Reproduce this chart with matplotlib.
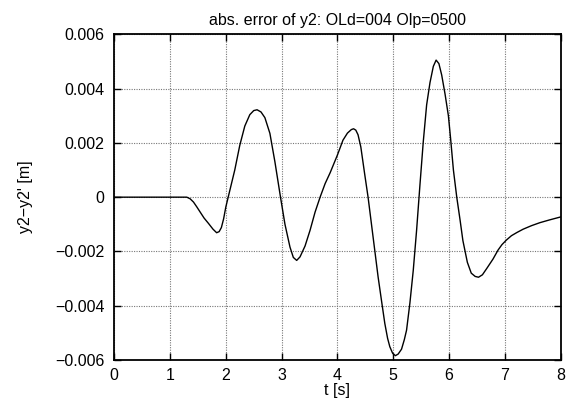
import matplotlib
matplotlib.use("Agg")
import matplotlib.pyplot as plt
from matplotlib.ticker import FixedLocator, FixedFormatter

# Data (t in s, error in units of 1e-3 m)
t = [0.0, 1.30, 1.36, 1.42, 1.48, 1.54, 1.61, 1.69, 1.77, 1.835, 1.88, 1.92,
     1.96, 2.00, 2.06, 2.16, 2.25, 2.34, 2.43, 2.50, 2.56, 2.63, 2.70, 2.79,
     2.88, 2.98, 3.06, 3.15, 3.21, 3.27, 3.33, 3.42, 3.51, 3.60, 3.69, 3.78,
     3.87, 4.00, 4.10, 4.18, 4.25, 4.29, 4.33, 4.37, 4.42, 4.49, 4.55, 4.61,
     4.67, 4.73, 4.79, 4.85, 4.90, 4.94, 4.99, 5.04, 5.09, 5.15, 5.20, 5.24,
     5.30, 5.36, 5.42, 5.48, 5.54, 5.60, 5.66, 5.72, 5.77, 5.82, 5.87, 5.93,
     5.99, 6.03, 6.08, 6.14, 6.20, 6.25, 6.33, 6.40, 6.47, 6.53, 6.60, 6.68,
     6.79, 6.88, 6.95, 7.03, 7.12, 7.22, 7.33, 7.48, 7.63, 7.80, 8.00]
err_milli = [0.0, 0.0, -0.06, -0.18, -0.36, -0.55, -0.77, -0.97, -1.18, -1.31, -1.27, -1.12,
             -0.80, -0.36, 0.15, 1.00, 1.91, 2.62, 3.04, 3.19, 3.22, 3.14, 2.93, 2.35,
             1.30, 0.0, -1.00, -1.84, -2.22, -2.33, -2.20, -1.80, -1.22, -0.55, 0.0, 0.50,
             0.90, 1.55, 2.10, 2.36, 2.49, 2.52, 2.47, 2.30, 1.85, 0.84, 0.0, -0.98,
             -1.96, -2.94, -3.80, -4.65, -5.20, -5.51, -5.75, -5.84, -5.78, -5.60, -5.25, -4.90,
             -3.90, -2.70, -1.22, 0.45, 2.05, 3.40, 4.22, 4.82, 5.05, 4.92, 4.50, 3.80,
             3.00, 2.15, 1.00, 0.0, -0.85, -1.60, -2.40, -2.80, -2.92, -2.95, -2.86, -2.62,
             -2.28, -1.95, -1.75, -1.58, -1.42, -1.30, -1.18, -1.05, -0.94, -0.84, -0.73]
err = [v * 1e-3 for v in err_milli]

x_ticks = [0, 1, 2, 3, 4, 5, 6, 7, 8]
x_tick_labels = ["0", "1", "2", "3", "4", "5", "6", "7", "8"]
y_ticks = [-0.006, -0.004, -0.002, 0.0, 0.002, 0.004, 0.006]
y_tick_labels = ["\u22120.006", "\u22120.004", "\u22120.002", "0", "0.002", "0.004", "0.006"]

title = "abs. error of y2: OLd=004 Olp=0500"
xlabel = "t [s]"
ylabel = "y2\u2212y2' [m]"

plt.rcParams['font.family'] = ['Liberation Sans', 'DejaVu Sans']

fig = plt.figure(figsize=(5.68, 3.99), dpi=100)
ax = fig.add_axes([0.2012, 0.0977, 0.7856, 0.8163])

ax.plot(t, err, color='black', linewidth=1.0)

ax.set_xlim(0, 8)
ax.set_ylim(-0.006, 0.006)
ax.xaxis.set_major_locator(FixedLocator(x_ticks))
ax.xaxis.set_major_formatter(FixedFormatter(x_tick_labels))
ax.yaxis.set_major_locator(FixedLocator(y_ticks))
ax.yaxis.set_major_formatter(FixedFormatter(y_tick_labels))

ax.tick_params(axis='both', which='major', direction='in', length=5, width=1.0,
               top=True, right=True, labelsize=11.5, color='black')
ax.tick_params(axis='x', pad=6)
ax.tick_params(axis='y', pad=7)

ax.grid(True, color='#777777', linestyle=(0, (1, 1.2)), linewidth=0.8)
for s in ax.spines.values():
    s.set_linewidth(1.3)

ax.set_title(title, fontsize=11.5, pad=7)
ax.set_xlabel(xlabel, fontsize=11.5, labelpad=0)
ax.set_ylabel(ylabel, fontsize=11.5, labelpad=16)

fig.savefig("out.png", dpi=100)
